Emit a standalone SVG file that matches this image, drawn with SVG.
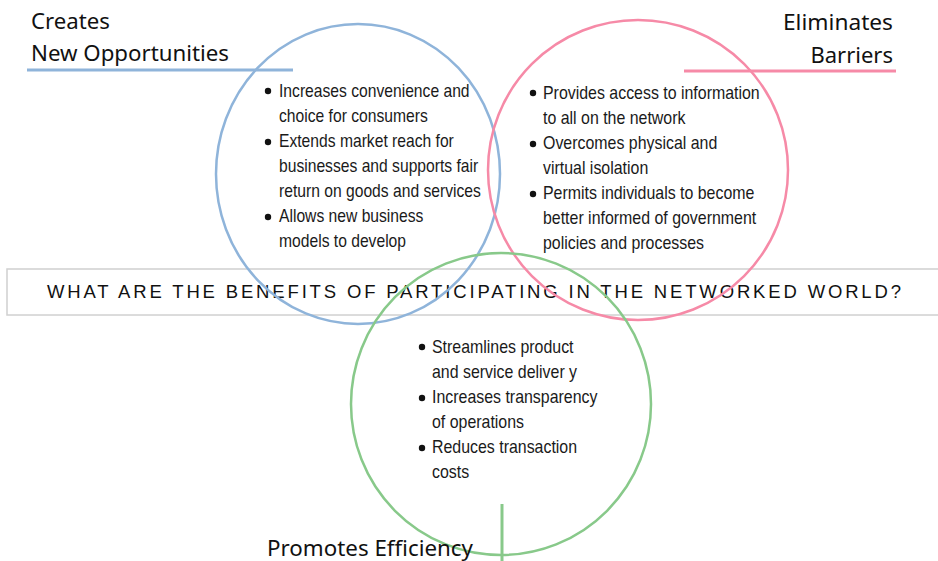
<svg xmlns="http://www.w3.org/2000/svg" width="938" height="561" viewBox="0 0 938 561">
  <style>
    .ring { fill: none; stroke-width: 2.5; }
    .blue { stroke: #8fb4da; }
    .pink { stroke: #f68aa7; }
    .green { stroke: #88c98a; }
    .rule { stroke-width: 3; }
    .head { font-family: "Noto Sans", "Open Sans", sans-serif; font-size: 22px; fill: #111; }
    .item { font-family: "Liberation Sans", Arial, sans-serif; font-size: 17.5px; fill: #1a1a1a; }
    .dot { fill: #111; }
    .banner { font-family: "Liberation Sans", Arial, sans-serif; font-size: 18.5px; fill: #111; }
  </style>

  <rect width="938" height="561" fill="#ffffff"/>

  <!-- banner strip -->
  <g id="question">
    <rect x="7" y="269" width="940" height="46" fill="none" stroke="#d0d0d0" stroke-width="1.5"/>
    <text class="banner" x="47" y="298" textLength="854" lengthAdjust="spacing">WHAT ARE THE BENEFITS OF PARTICIPATING IN THE NETWORKED WORLD?</text>
  </g>

  <!-- circles and heading rules -->
  <g id="connectors">
    <ellipse class="ring blue" cx="358" cy="174" rx="142" ry="150"/>
    <ellipse class="ring pink" cx="638" cy="170" rx="150" ry="150"/>
    <ellipse class="ring green" cx="501" cy="404" rx="150" ry="151"/>
    <line class="rule blue" x1="27" y1="70" x2="293" y2="70"/>
    <line class="rule pink" x1="684" y1="71" x2="896" y2="71"/>
    <line class="rule green" x1="502" y1="504" x2="502" y2="561"/>
  </g>

  <g id="opportunities">
    <text class="head" x="31" y="29" textLength="79" lengthAdjust="spacingAndGlyphs">Creates</text>
    <text class="head" x="31" y="61" textLength="198" lengthAdjust="spacingAndGlyphs">New Opportunities</text>
    <circle class="dot" cx="268" cy="91" r="3.2"/>
    <circle class="dot" cx="268" cy="142" r="3.2"/>
    <circle class="dot" cx="268" cy="217" r="3.2"/>
    <g transform="translate(279,0) scale(0.895,1)">
      <text class="item" x="0" y="97">Increases convenience and</text>
      <text class="item" x="0" y="122">choice for consumers</text>
      <text class="item" x="0" y="147">Extends market reach for</text>
      <text class="item" x="0" y="172">businesses and supports fair</text>
      <text class="item" x="0" y="197">return on goods and services</text>
      <text class="item" x="0" y="222">Allows new business</text>
      <text class="item" x="0" y="247">models to develop</text>
    </g>
  </g>

  <g id="barriers">
    <text class="head" x="893" y="30" text-anchor="end" textLength="110" lengthAdjust="spacingAndGlyphs">Eliminates</text>
    <text class="head" x="893" y="63" text-anchor="end">Barriers</text>
    <circle class="dot" cx="533" cy="93" r="3.2"/>
    <circle class="dot" cx="533" cy="144" r="3.2"/>
    <circle class="dot" cx="533" cy="194" r="3.2"/>
    <g transform="translate(543,0) scale(0.91,1)">
      <text class="item" x="0" y="99">Provides access to information</text>
      <text class="item" x="0" y="124">to all on the network</text>
      <text class="item" x="0" y="149">Overcomes physical and</text>
      <text class="item" x="0" y="174">virtual isolation</text>
      <text class="item" x="0" y="199">Permits individuals to become</text>
      <text class="item" x="0" y="224">better informed of government</text>
      <text class="item" x="0" y="249">policies and processes</text>
    </g>
  </g>

  <g id="efficiency">
    <text class="head" x="267" y="556" textLength="206" lengthAdjust="spacingAndGlyphs">Promotes Efficiency</text>
    <circle class="dot" cx="422" cy="347" r="3.2"/>
    <circle class="dot" cx="422" cy="398" r="3.2"/>
    <circle class="dot" cx="422" cy="448" r="3.2"/>
    <g transform="translate(432,0) scale(0.91,1)">
      <text class="item" x="0" y="353">Streamlines product</text>
      <text class="item" x="0" y="378">and service deliver y</text>
      <text class="item" x="0" y="403">Increases transparency</text>
      <text class="item" x="0" y="428">of operations</text>
      <text class="item" x="0" y="453">Reduces transaction</text>
      <text class="item" x="0" y="478">costs</text>
    </g>
  </g>
</svg>
